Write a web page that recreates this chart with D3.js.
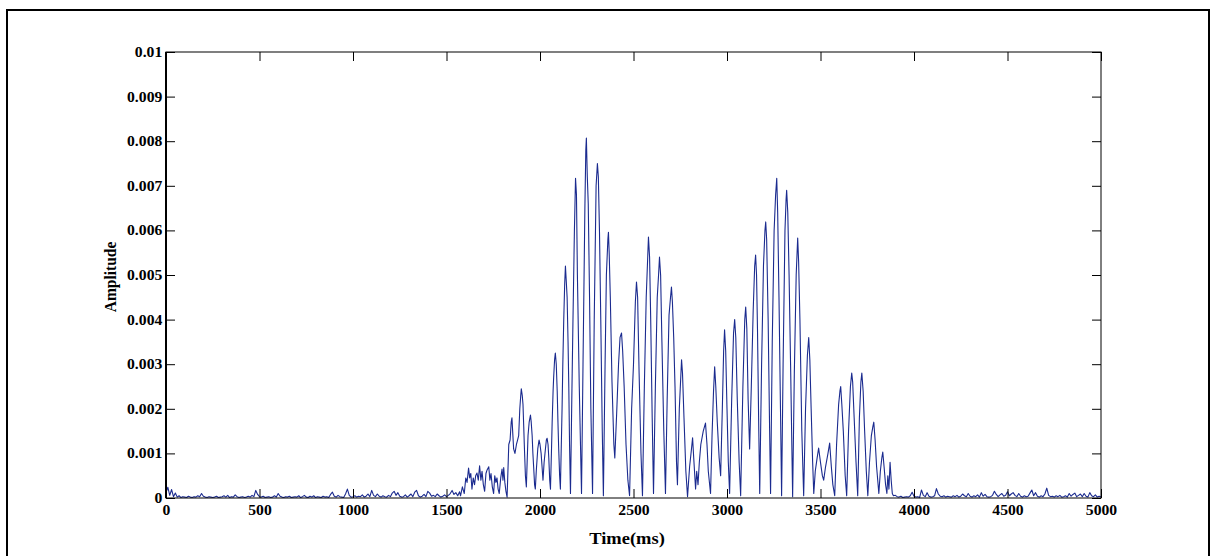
<!DOCTYPE html>
<html>
<head>
<meta charset="utf-8">
<script src="https://cdn.jsdelivr.net/npm/d3@7"></script>
<style>
  body { margin: 0; background: #fff; }
  svg { display: block; }
  .tick line { stroke: #000; }
</style>
</head>
<body>
<svg id="chart" width="1214" height="556"></svg>
<script>
// Amplitudes below are stored in units of 1e-4.
const ampUnit = 1e-4;

// Background noise before the utterance, sampled every 10 ms from 0 ms.
const leadNoiseStart = 0;
const leadNoiseStep = 10;
const leadNoise = [
  1.2, 2.4, 0.6, 1.9, 0.3, 1.1, 0.2, 0.5, 0.1, 0.3,
  0.2, 0.1, 0.4, 0.2, 0.1, 0.3, 0.2, 0.5, 0.3, 1.0,
  0.4, 0.2, 0.1, 0.3, 0.2, 0.1, 0.2, 0.4, 0.1, 0.2,
  0.3, 0.5, 0.2, 0.6, 0.1, 0.3, 0.2, 0.7, 0.3, 0.1,
  0.2, 0.3, 0.1, 0.2, 0.4, 0.2, 0.6, 0.3, 1.7, 0.8,
  0.3, 0.2, 0.4, 0.1, 0.2, 0.3, 0.1, 0.2, 0.5, 0.2,
  1.0, 0.4, 0.2, 0.1, 0.3, 0.2, 0.4, 0.1, 0.2, 0.3,
  0.2, 0.5, 0.1, 0.3, 0.6, 0.2, 0.1, 0.4, 0.2, 0.5,
  0.1, 0.3, 0.2, 0.1, 0.4, 0.2, 0.3, 0.1, 0.8, 1.3,
  0.4, 0.2, 0.6, 0.3, 0.2, 0.1, 0.9, 2.0, 0.6, 0.2,
  0.3, 0.5, 0.2, 0.4, 0.3, 0.7, 0.2, 0.4, 0.9, 0.3,
  1.7, 0.6, 0.3, 0.9, 0.4, 0.2, 0.5, 0.3, 0.2, 0.6,
  0.3, 1.1, 1.5, 0.6, 1.2, 0.4, 0.2, 0.3, 0.7, 0.2,
  0.5, 0.9, 0.3, 1.3, 1.7, 0.5, 0.2, 0.4, 0.8, 0.3,
  1.5, 1.1, 0.4, 0.6, 0.3, 0.9, 0.5, 0.2, 0.4, 0.7,
  0.3, 0.6, 1.0, 1.7, 0.8, 1.2, 0.5, 1.4
];

// Voiced part of the utterance: [time in ms, amplitude].
const voiced = [
  [1575, 0.5], [1585, 2.5], [1595, 1.0], [1603, 4.5], [1610, 3.5], [1618, 6.7], [1624, 4.5],
  [1630, 5.5], [1636, 2.0], [1643, 4.5], [1650, 3.0], [1656, 5.0], [1663, 5.6], [1670, 4.0],
  [1677, 7.2], [1684, 4.0], [1690, 6.0], [1697, 3.0], [1704, 1.5], [1711, 5.5], [1717, 6.3],
  [1726, 7.0], [1732, 4.0], [1738, 5.5], [1745, 2.5], [1752, 1.0], [1758, 5.0], [1764, 3.5],
  [1770, 4.5], [1776, 2.0], [1782, 1.0], [1790, 4.5], [1797, 6.5], [1802, 4.0], [1806, 6.8],
  [1812, 3.5], [1818, 1.5], [1824, 0.2],
  [1833, 12], [1840, 13], [1846, 17], [1850, 18], [1855, 14], [1859, 11], [1866, 10],
  [1874, 12], [1880, 13], [1886, 14], [1892, 20], [1897, 23], [1900, 24.5], [1905, 23],
  [1909, 21], [1913, 16], [1916, 12], [1922, 5], [1927, 2.5], [1932, 9], [1936, 14],
  [1942, 17], [1949, 18.6], [1953, 17], [1958, 14], [1962, 10], [1966, 7], [1971, 3],
  [1975, 2], [1980, 6], [1988, 11], [1995, 13], [2000, 12], [2006, 10], [2011, 7],
  [2016, 4], [2022, 8], [2029, 11], [2034, 13], [2038, 13.4], [2043, 12], [2047, 9],
  [2052, 4], [2056, 2], [2061, 10], [2065, 17], [2070, 24], [2073, 27], [2078, 31],
  [2082, 32.5], [2087, 30], [2092, 24], [2096, 17], [2100, 11], [2105, 5], [2109, 2],
  [2114, 12], [2118, 20], [2122, 30], [2127, 40], [2132, 48], [2136, 52], [2140, 49],
  [2145, 45], [2150, 35], [2154, 25], [2158, 12], [2163, 1],
  [2170, 22], [2176, 39], [2184, 60], [2190, 71.7], [2195, 68], [2200, 50], [2210, 25], [2222, 1],
  [2230, 30], [2240, 65], [2245, 78], [2248, 80.7], [2253, 72], [2258, 66], [2265, 45], [2272, 20], [2281, 1],
  [2290, 40], [2300, 70], [2307, 75], [2312, 72], [2318, 60], [2325, 40], [2333, 15], [2339, 0.5],
  [2348, 30], [2355, 50], [2363, 58], [2366, 59.6], [2370, 55], [2376, 45], [2385, 26], [2395, 12], [2400, 9],
  [2410, 19], [2420, 30], [2428, 36], [2436, 37], [2442, 33], [2450, 25], [2460, 12], [2470, 4], [2479, 0.5],
  [2490, 20], [2500, 30], [2510, 44], [2516, 48.4], [2522, 45], [2530, 28], [2540, 10], [2548, 0.5],
  [2558, 25], [2568, 45], [2576, 54], [2580, 58.5], [2586, 54], [2592, 40], [2600, 18], [2607, 1],
  [2617, 25], [2627, 45], [2634, 50], [2639, 54], [2645, 50], [2652, 35], [2662, 15], [2671, 1],
  [2680, 22], [2690, 41], [2698, 45], [2703, 47.3], [2708, 44], [2715, 36], [2722, 25], [2730, 8], [2735, 3],
  [2745, 20], [2757, 31], [2762, 28], [2770, 18], [2780, 6], [2789, 0.3],
  [2800, 7], [2810, 11], [2816, 13.5], [2822, 9], [2832, 2], [2838, 6], [2845, 3],
  [2852, 8], [2860, 12], [2873, 15], [2885, 16.8], [2893, 12], [2900, 6], [2912, 1],
  [2920, 14], [2928, 24], [2934, 29.4], [2940, 25], [2948, 17], [2958, 9], [2966, 5],
  [2975, 20], [2982, 33], [2987, 37.7], [2993, 33], [3000, 20], [3007, 8], [3014, 1],
  [3025, 22], [3035, 37], [3041, 40], [3047, 36], [3055, 22], [3065, 8], [3073, 0.5],
  [3085, 25], [3095, 40], [3100, 42.8], [3106, 38], [3113, 22], [3121, 11],
  [3130, 25], [3140, 42], [3148, 52], [3153, 54.5], [3158, 50], [3163, 38], [3170, 15], [3175, 1],
  [3185, 30], [3195, 52], [3203, 60], [3207, 61.9], [3212, 58], [3220, 40], [3228, 15], [3233, 1],
  [3242, 35], [3252, 60], [3260, 68], [3266, 71.7], [3271, 64], [3278, 45], [3286, 20], [3292, 0.5],
  [3300, 30], [3310, 60], [3316, 67], [3319, 69], [3325, 64], [3332, 50], [3340, 30], [3351, 0.3],
  [3360, 28], [3370, 50], [3378, 58.3], [3383, 53], [3390, 40], [3400, 15], [3410, 0.5],
  [3420, 20], [3430, 32], [3437, 36], [3443, 31], [3450, 20], [3458, 8], [3464, 1],
  [3472, 6], [3482, 9], [3490, 11.2], [3500, 8], [3510, 5], [3517, 4],
  [3527, 7], [3540, 10], [3549, 12.3], [3558, 7], [3566, 3], [3576, 0.5],
  [3586, 12], [3597, 21], [3604, 24], [3608, 25], [3614, 21], [3622, 15], [3632, 5], [3640, 0.5],
  [3650, 15], [3660, 25], [3667, 28], [3672, 26], [3680, 18], [3690, 8], [3699, 0.5],
  [3708, 18], [3716, 26], [3721, 28], [3728, 24], [3736, 15], [3745, 6], [3753, 0.5],
  [3762, 8], [3772, 14], [3780, 16], [3785, 17], [3792, 13], [3800, 7], [3812, 1],
  [3820, 6], [3828, 9], [3833, 10.3], [3840, 7], [3848, 3], [3855, 1], [3860, 5],
  [3866, 2], [3872, 8], [3878, 4], [3884, 1], [3890, 0.5]
];

// Background noise after the utterance, sampled every 10 ms from 3900 ms.
const tailNoiseStart = 3900;
const tailNoiseStep = 10;
const tailNoise = [
  0.6, 0.3, 0.2, 0.4, 0.1, 0.2, 0.3, 0.2, 0.5, 1.3,
  0.4, 0.2, 0.3, 0.1, 1.8, 0.6, 0.3, 1.2, 0.4, 0.2,
  0.3, 0.5, 2.1, 0.9, 0.4, 0.3, 0.5, 0.2, 0.4, 0.3,
  0.2, 0.5, 0.3, 0.6, 0.2, 0.4, 0.9, 0.5, 0.3, 1.0,
  0.4, 0.2, 0.5, 0.3, 0.7, 0.2, 1.2, 0.4, 0.8, 0.3,
  0.2, 0.3, 0.6, 1.5, 0.8, 0.3, 0.7, 1.0, 0.4, 0.6,
  1.4, 0.5, 0.9, 1.2, 0.6, 0.3, 1.0, 0.4, 0.2, 0.5,
  0.3, 0.4, 1.1, 1.8, 0.5, 1.2, 0.4, 0.2, 0.5, 0.3,
  0.9, 2.2, 0.6, 0.3, 0.4, 0.2, 0.5, 0.3, 0.6, 0.2,
  0.3, 0.5, 0.2, 1.0, 0.4, 0.8, 1.1, 0.3, 0.6, 0.9,
  0.3, 1.0, 0.4, 0.2, 1.2, 0.5, 0.3, 0.7, 0.2, 0.4,
  0.3
];

const xTicks = [0, 500, 1000, 1500, 2000, 2500, 3000, 3500, 4000, 4500, 5000];
const xTickLabels = ["0", "500", "1000", "1500", "2000", "2500", "3000", "3500", "4000", "4500", "5000"];
const yTicks = [0, 0.001, 0.002, 0.003, 0.004, 0.005, 0.006, 0.007, 0.008, 0.009, 0.01];
const yTickLabels = ["0", "0.001", "0.002", "0.003", "0.004", "0.005", "0.006", "0.007", "0.008", "0.009", "0.01"];

const xLabel = "Time(ms)";
const yLabel = "Amplitude";

// ---- layout ----
const plot = { left: 166, right: 1101, top: 52, bottom: 498 };
const tickLen = 9;
const fontFamily = '"Liberation Serif", "Times New Roman", serif';
const textStretch = 1.12;   // glyphs are drawn a little wider than their natural width

const svg = d3.select("#chart");

// figure frame
svg.append("rect")
  .attr("x", 7).attr("y", 10)
  .attr("width", 1202).attr("height", 580)
  .attr("fill", "none").attr("stroke", "#000").attr("stroke-width", 2);

const x = d3.scaleLinear().domain([0, 5000]).range([plot.left, plot.right]);
const y = d3.scaleLinear().domain([0, 0.01]).range([plot.bottom, plot.top]);

// assemble the full trace
const series = [];
leadNoise.forEach((v, i) => series.push({ t: leadNoiseStart + i * leadNoiseStep, a: v * ampUnit }));
voiced.forEach(([t, v]) => series.push({ t, a: v * ampUnit }));
tailNoise.forEach((v, i) => series.push({ t: tailNoiseStart + i * tailNoiseStep, a: v * ampUnit }));

const line = d3.line().x(d => x(d.t)).y(d => y(d.a));

svg.append("path")
  .datum(series)
  .attr("d", line)
  .attr("fill", "none")
  .attr("stroke", "#1b2b8f")
  .attr("stroke-width", 1.1)
  .attr("stroke-linejoin", "round");

// axes with inward ticks on all four sides
const xFmt = (d, i) => xTickLabels[i];
const yFmt = (d, i) => yTickLabels[i];

svg.append("g")
  .attr("class", "x-axis")
  .attr("transform", `translate(0,${plot.bottom})`)
  .call(d3.axisBottom(x).tickValues(xTicks).tickFormat(xFmt).tickSizeInner(-tickLen).tickSizeOuter(0).tickPadding(7))
  .call(g => g.select(".domain").remove());

svg.append("g")
  .attr("transform", `translate(0,${plot.top})`)
  .call(d3.axisTop(x).tickValues(xTicks).tickFormat("").tickSizeInner(-tickLen).tickSizeOuter(0))
  .call(g => g.select(".domain").remove());

svg.append("g")
  .attr("class", "y-axis")
  .attr("transform", `translate(${plot.left},0)`)
  .call(d3.axisLeft(y).tickValues(yTicks).tickFormat(yFmt).tickSizeInner(-tickLen).tickSizeOuter(0).tickPadding(3.3))
  .call(g => g.select(".domain").remove());

svg.append("g")
  .attr("transform", `translate(${plot.right},0)`)
  .call(d3.axisRight(y).tickValues(yTicks).tickFormat("").tickSizeInner(-tickLen).tickSizeOuter(0))
  .call(g => g.select(".domain").remove());

svg.selectAll(".x-axis .tick text, .y-axis .tick text")
  .attr("font-family", fontFamily)
  .attr("font-weight", "bold")
  .attr("font-size", 14)
  .attr("fill", "#000")
  .attr("transform", `scale(${textStretch},1)`);

// axes box
svg.append("rect")
  .attr("x", plot.left).attr("y", plot.top)
  .attr("width", plot.right - plot.left).attr("height", plot.bottom - plot.top)
  .attr("fill", "none").attr("stroke", "#000").attr("stroke-width", 1);
svg.append("line")
  .attr("x1", plot.left).attr("x2", plot.left)
  .attr("y1", plot.top).attr("y2", plot.bottom)
  .attr("stroke", "#000").attr("stroke-width", 2);

// axis titles
svg.append("text")
  .attr("transform", `translate(627,544) scale(${textStretch},1)`)
  .attr("text-anchor", "middle")
  .attr("font-family", fontFamily).attr("font-weight", "bold").attr("font-size", 16.5)
  .text(xLabel);

svg.append("text")
  .attr("transform", `translate(116,277) scale(${textStretch},1) rotate(-90)`)
  .attr("text-anchor", "middle")
  .attr("font-family", fontFamily).attr("font-weight", "bold").attr("font-size", 15.5)
  .text(yLabel);
</script>
</body>
</html>
